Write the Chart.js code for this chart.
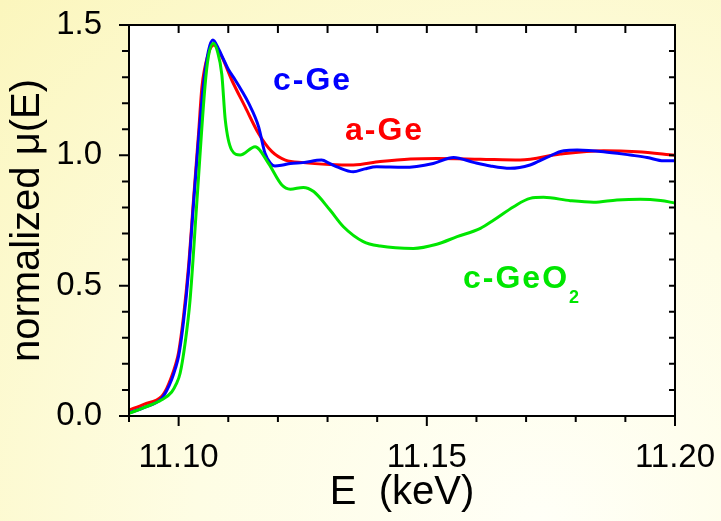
<!DOCTYPE html>
<html>
<head>
<meta charset="utf-8">
<title>Ge K-edge XANES</title>
<script src="https://cdn.jsdelivr.net/npm/chart.js@4.4.1/dist/chart.umd.min.js"></script>
<style>
  html, body { margin: 0; padding: 0; }
  body {
    width: 721px;
    height: 521px;
    overflow: hidden;
    background: radial-gradient(ellipse at 75% 100%, #fffff7 0%, #fefde4 45%, #fbf6bd 100%);
  }
  canvas { display: block; }
</style>
</head>
<body>
<canvas id="xanesChart" width="721" height="521"></canvas>
<script>
// Energies (keV) and normalized absorption
const cGeEnergy = [11.090, 11.093, 11.0965, 11.0976, 11.0986, 11.0993, 11.100, 11.101, 11.102, 11.103, 11.104, 11.105, 11.106, 11.1069, 11.108, 11.109, 11.110, 11.1114, 11.1128, 11.1141, 11.1161, 11.1174, 11.1185, 11.1194, 11.121, 11.1225, 11.125, 11.1288, 11.1305, 11.1319, 11.1352, 11.1375, 11.1399, 11.1453, 11.1513, 11.1554, 11.1594, 11.1628, 11.1668, 11.1708, 11.1742, 11.1776, 11.1803, 11.1856, 11.191, 11.1944, 11.1977, 11.200];
const cGeMu = [0.012, 0.032, 0.066, 0.098, 0.14, 0.18, 0.23, 0.365, 0.555, 0.815, 1.06, 1.27, 1.40, 1.442, 1.41, 1.37, 1.33, 1.289, 1.245, 1.20, 1.11, 1.008, 0.97, 0.959, 0.963, 0.969, 0.972, 0.982, 0.968, 0.956, 0.937, 0.948, 0.956, 0.954, 0.969, 0.992, 0.973, 0.959, 0.95, 0.963, 0.992, 1.018, 1.02, 1.014, 1.001, 0.992, 0.979, 0.979];

const aGeEnergy = [11.090, 11.093, 11.0966, 11.0976, 11.0986, 11.0993, 11.100, 11.101, 11.102, 11.103, 11.104, 11.1047, 11.106, 11.1071, 11.1087, 11.1107, 11.1134, 11.1161, 11.1188, 11.1215, 11.1251, 11.1305, 11.1352, 11.1406, 11.1467, 11.152, 11.1608, 11.1688, 11.1769, 11.1856, 11.1924, 11.200];
const aGeMu = [0.023, 0.045, 0.076, 0.106, 0.152, 0.192, 0.245, 0.385, 0.575, 0.83, 1.08, 1.263, 1.39, 1.423, 1.378, 1.289, 1.186, 1.084, 1.014, 0.982, 0.972, 0.965, 0.963, 0.976, 0.986, 0.988, 0.985, 0.982, 1.005, 1.018, 1.014, 1.0];

const cGeO2Energy = [11.090, 11.093, 11.0966, 11.0986, 11.0995, 11.1003, 11.1013, 11.1023, 11.1037, 11.1053, 11.106, 11.107, 11.1078, 11.1087, 11.1094, 11.1107, 11.1124, 11.1154, 11.1181, 11.1208, 11.1225, 11.1251, 11.1272, 11.1305, 11.1332, 11.1372, 11.1406, 11.1473, 11.152, 11.1561, 11.1608, 11.1635, 11.1675, 11.1708, 11.1735, 11.1789, 11.1836, 11.1883, 11.193, 11.1971, 11.200];
const cGeO2Mu = [0.01, 0.032, 0.062, 0.092, 0.122, 0.164, 0.279, 0.445, 0.829, 1.263, 1.38, 1.43, 1.40, 1.31, 1.135, 1.02, 1.001, 1.033, 0.969, 0.886, 0.87, 0.877, 0.861, 0.79, 0.726, 0.669, 0.652, 0.643, 0.659, 0.688, 0.72, 0.752, 0.803, 0.835, 0.839, 0.826, 0.82, 0.829, 0.832, 0.827, 0.817];

// Axis ticks
const xTickLabels = [11.10, 11.15, 11.20];
const yTickLabels = [0.0, 0.5, 1.0, 1.5];
const xMinorTicks = [11.09, 11.10, 11.11, 11.12, 11.13, 11.14, 11.15, 11.16, 11.17, 11.18, 11.19, 11.20];
const yMinorTicks = [0.0, 0.1, 0.2, 0.3, 0.4, 0.5, 0.6, 0.7, 0.8, 0.9, 1.0, 1.1, 1.2, 1.3, 1.4, 1.5];

const FONT = "'Liberation Sans', Arial, sans-serif";

function toPoints(xs, ys) {
    return xs.map((e, i) => ({ x: e, y: ys[i] }));
}

function isMajor(list, v) {
    return list.some(t => Math.abs(t - v) < 1e-6);
}

// White plot box, frame, ticks and curve labels
const frameAndLabels = {
    id: 'frameAndLabels',
    beforeDatasetsDraw(chart) {
        const { ctx, chartArea: a } = chart;
        ctx.save();
        ctx.fillStyle = '#ffffff';
        ctx.fillRect(a.left, a.top, a.right - a.left, a.bottom - a.top);
        ctx.restore();
    },
    afterDraw(chart) {
        const { ctx, chartArea: a, scales: { x, y } } = chart;
        ctx.save();
        ctx.strokeStyle = '#000';
        ctx.lineWidth = 2;
        ctx.strokeRect(a.left, a.top, a.right - a.left, a.bottom - a.top);

        ctx.beginPath();
        xMinorTicks.forEach(v => {
            const px = x.getPixelForValue(v);
            const len = isMajor(xTickLabels, v) ? 10 : 6;
            ctx.moveTo(px, a.bottom);
            ctx.lineTo(px, a.bottom + len);
            ctx.moveTo(px, a.top);
            ctx.lineTo(px, a.top + 8);
        });
        yMinorTicks.forEach(v => {
            const py = y.getPixelForValue(v);
            const len = isMajor(yTickLabels, v) ? 10 : 7;
            ctx.moveTo(a.left - len, py);
            ctx.lineTo(a.left, py);
            ctx.moveTo(a.right, py);
            ctx.lineTo(a.right - 6, py);
        });
        ctx.stroke();

        // curve labels
        ctx.textAlign = 'left';
        ctx.textBaseline = 'alphabetic';
        ctx.letterSpacing = '2px';
        ctx.font = 'bold 32px ' + FONT;
        ctx.fillStyle = '#0000ff';
        ctx.fillText('c-Ge', 273, 90);
        ctx.fillStyle = '#ff0000';
        ctx.fillText('a-Ge', 345, 140);
        ctx.fillStyle = '#00e600';
        ctx.fillText('c-GeO', 463, 288);
        const w = ctx.measureText('c-GeO').width;
        ctx.font = 'bold 18px ' + FONT;
        ctx.fillText('2', 463 + w, 303);
        ctx.restore();
    }
};

const chart = new Chart(document.getElementById('xanesChart'), {
    type: 'line',
    data: {
        datasets: [
            {
                label: 'c-GeO2',
                data: toPoints(cGeO2Energy, cGeO2Mu),
                borderColor: '#00e600',
                borderWidth: 3
            },
            {
                label: 'c-Ge',
                data: toPoints(cGeEnergy, cGeMu),
                borderColor: '#0000ff',
                borderWidth: 3
            },
            {
                label: 'a-Ge',
                data: toPoints(aGeEnergy, aGeMu),
                borderColor: '#ff0000',
                borderWidth: 3
            }
        ]
    },
    options: {
        responsive: false,
        animation: false,
        cubicInterpolationMode: 'monotone',
        pointRadius: 0,
        layout: {
            padding: { left: 0, right: 46, top: 25, bottom: 0 }
        },
        plugins: {
            legend: { display: false },
            tooltip: { enabled: false }
        },
        scales: {
            x: {
                type: 'linear',
                min: 11.09,
                max: 11.20,
                grid: { display: false },
                border: { display: false },
                afterBuildTicks: scale => {
                    scale.ticks = xTickLabels.map(v => ({ value: v }));
                },
                afterFit: scale => {
                    scale.height = 105;
                    scale.paddingLeft = 0;
                    scale.paddingRight = 0;
                },
                ticks: {
                    color: '#000',
                    padding: 14,
                    maxRotation: 0,
                    font: { family: FONT, size: 33 },
                    callback: v => Number(v).toFixed(2)
                },
                title: {
                    display: true,
                    text: 'E  (keV)',
                    color: '#000',
                    font: { family: FONT, size: 40 },
                    padding: { top: 0, bottom: 4 }
                }
            },
            y: {
                min: 0,
                max: 1.5,
                grid: { display: false },
                border: { display: false },
                afterBuildTicks: scale => {
                    scale.ticks = yTickLabels.map(v => ({ value: v }));
                },
                afterFit: scale => {
                    scale.width = 129;
                    scale.paddingTop = 0;
                    scale.paddingBottom = 0;
                },
                ticks: {
                    color: '#000',
                    padding: 19,
                    font: { family: FONT, size: 33 },
                    callback: v => Number(v).toFixed(1)
                },
                title: {
                    display: true,
                    text: 'normalized μ(E)',
                    color: '#000',
                    font: { family: FONT, size: 40 },
                    padding: { top: 4, bottom: 0 }
                }
            }
        }
    },
    plugins: [frameAndLabels]
});
</script>
</body>
</html>
